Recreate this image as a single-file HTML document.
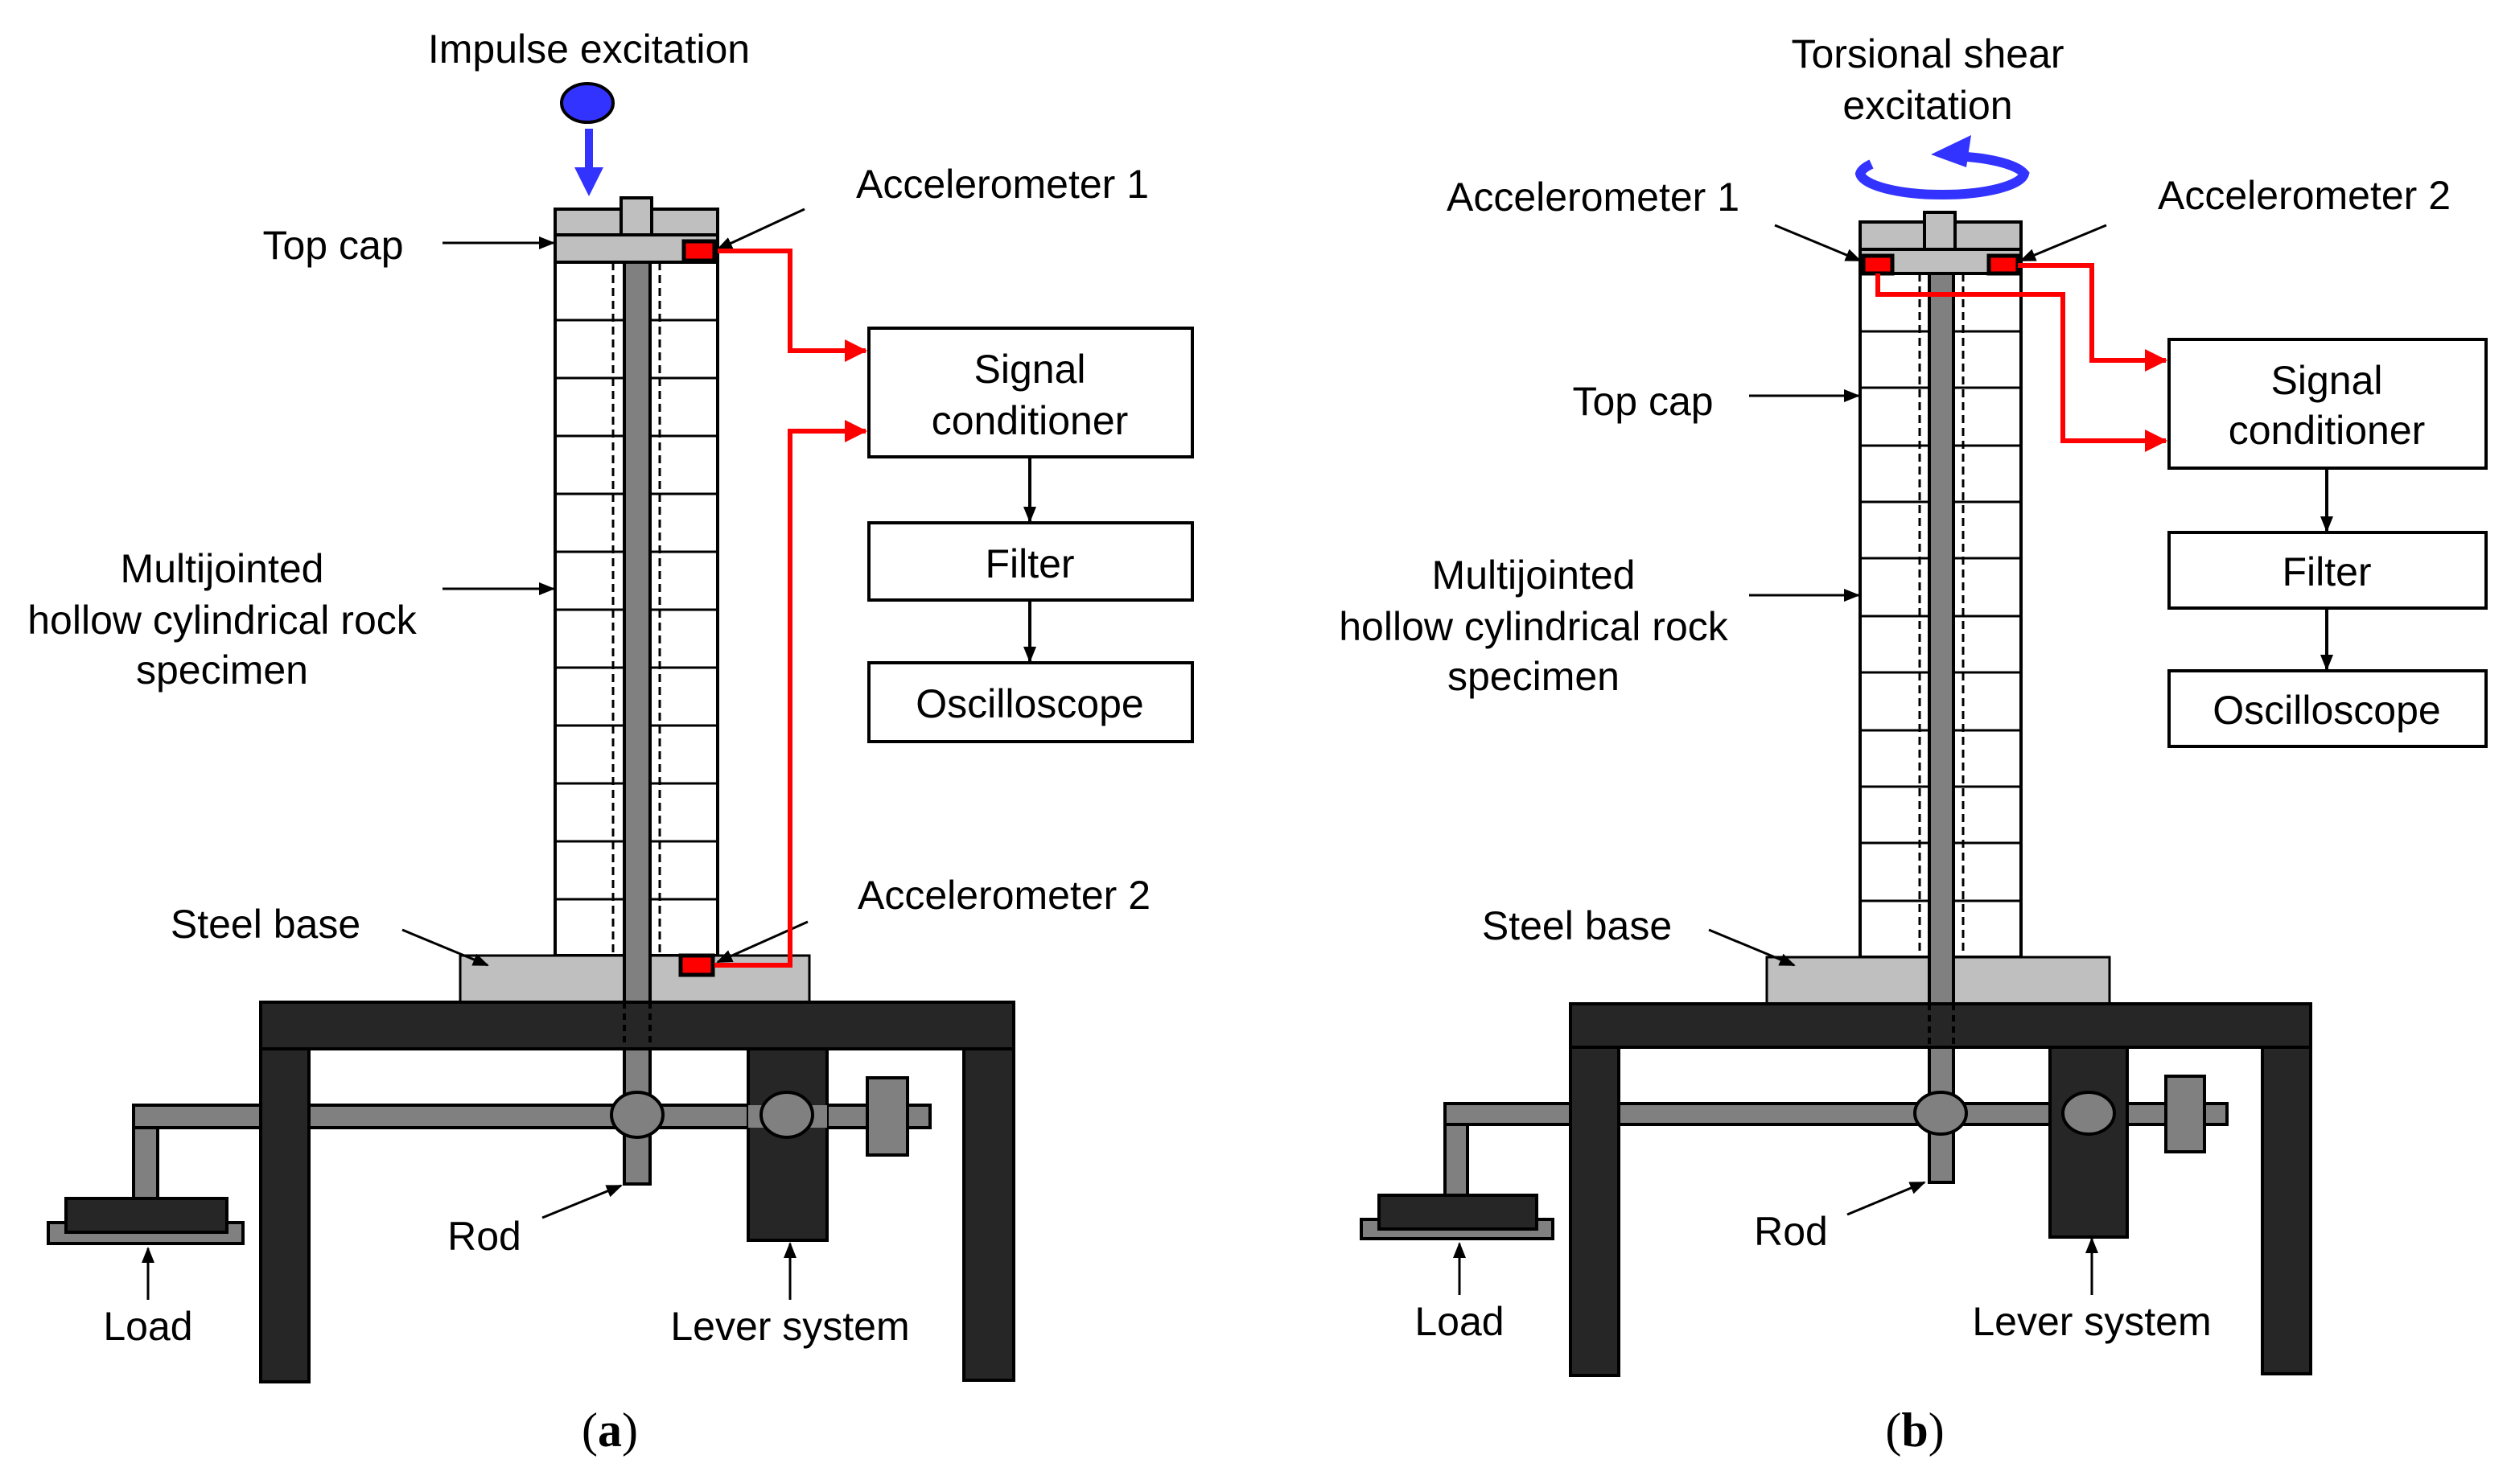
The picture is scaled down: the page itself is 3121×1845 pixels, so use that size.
<!DOCTYPE html>
<html><head><meta charset="utf-8"><style>html,body{margin:0;padding:0;background:#fff}svg{display:block}text{font-family:"Liberation Sans",sans-serif;font-size:25px;fill:#000}</style></head>
<body>
<svg width="3121" height="1845" viewBox="0 0 1560.5 922.5" xmlns="http://www.w3.org/2000/svg">
<defs>
<marker id="ab" markerWidth="10" markerHeight="8" refX="9" refY="4" orient="auto" markerUnits="userSpaceOnUse"><path d="M0,0 L10,4 L0,8Z" fill="#000"/></marker>
<marker id="ar" markerWidth="14" markerHeight="14" refX="13" refY="7" orient="auto" markerUnits="userSpaceOnUse"><path d="M0,0 L14,7 L0,14Z" fill="#f00"/></marker>
</defs>
<g stroke="#000" stroke-width="2">
<!-- PANEL A -->
<rect x="345" y="163" width="101" height="431" fill="#fff"/>
<g stroke-width="1.5">
<line x1="345" y1="199" x2="446" y2="199"/><line x1="345" y1="235" x2="446" y2="235"/><line x1="345" y1="271" x2="446" y2="271"/><line x1="345" y1="307" x2="446" y2="307"/><line x1="345" y1="343" x2="446" y2="343"/><line x1="345" y1="379" x2="446" y2="379"/><line x1="345" y1="415" x2="446" y2="415"/><line x1="345" y1="451" x2="446" y2="451"/><line x1="345" y1="487" x2="446" y2="487"/><line x1="345" y1="523" x2="446" y2="523"/><line x1="345" y1="559" x2="446" y2="559"/>
<line x1="381" y1="163" x2="381" y2="594" stroke-dasharray="5,3"/><line x1="410" y1="163" x2="410" y2="594" stroke-dasharray="5,3"/>
</g>
<rect x="286" y="594" width="217" height="29" fill="#bfbfbf" stroke-width="1.5"/>
<rect x="388" y="163" width="16" height="573" fill="#808080"/>
<rect x="162" y="623" width="468" height="29" fill="#262626"/>
<line x1="388" y1="623" x2="388" y2="652" stroke="#000" stroke-dasharray="4,3"/><line x1="404" y1="623" x2="404" y2="652" stroke-dasharray="4,3"/>
<rect x="388" y="652" width="16" height="84" fill="#808080"/>
<rect x="162" y="652" width="30" height="207" fill="#262626"/>
<rect x="599" y="652" width="31" height="206" fill="#262626"/>
<rect x="83" y="687" width="79" height="14" fill="#808080"/>
<rect x="192" y="687" width="386" height="14" fill="#808080"/>
<rect x="83" y="701" width="15" height="45" fill="#808080"/>
<rect x="30" y="760" width="121" height="13" fill="#808080"/>
<rect x="41" y="745" width="100" height="21" fill="#262626"/>
<rect x="465" y="652" width="49" height="119" fill="#262626"/>
<rect x="465" y="687" width="49" height="14" fill="#808080" stroke="none"/>
<rect x="539" y="670" width="25" height="48" fill="#808080"/>
<ellipse cx="396" cy="693" rx="16" ry="14" fill="#808080"/>
<ellipse cx="489" cy="693" rx="16" ry="14" fill="#808080"/>
<rect x="345" y="130" width="101" height="16" fill="#bfbfbf"/>
<rect x="386" y="123" width="19" height="23" fill="#bfbfbf"/>
<rect x="345" y="146" width="101" height="17" fill="#bfbfbf"/>
<rect x="425" y="150" width="19" height="12" fill="#f00" stroke-width="2.5"/>
<rect x="423" y="594" width="20" height="12" fill="#f00" stroke-width="2.5"/>
<rect x="540" y="204" width="201" height="80" fill="#fff"/>
<rect x="540" y="325" width="201" height="48" fill="#fff"/>
<rect x="540" y="412" width="201" height="49" fill="#fff"/>
<line x1="640" y1="284" x2="640" y2="324" marker-end="url(#ab)" stroke-width="2"/>
<line x1="640" y1="373" x2="640" y2="411" marker-end="url(#ab)"/>
<g stroke-width="1.5">
<line x1="275" y1="151" x2="344" y2="151" marker-end="url(#ab)"/>
<line x1="500" y1="130" x2="446" y2="155" marker-end="url(#ab)"/>
<line x1="275" y1="366" x2="344" y2="366" marker-end="url(#ab)"/>
<line x1="250" y1="578" x2="303" y2="600" marker-end="url(#ab)"/>
<line x1="502" y1="573" x2="446" y2="598" marker-end="url(#ab)"/>
<line x1="337" y1="757" x2="386" y2="737" marker-end="url(#ab)"/>
<line x1="92" y1="808" x2="92" y2="776" marker-end="url(#ab)"/>
<line x1="491" y1="808" x2="491" y2="773" marker-end="url(#ab)"/>
</g>
</g>
<g fill="none" stroke="#f00" stroke-width="3">
<polyline points="446,156 491,156 491,218 538,218" marker-end="url(#ar)"/>
<polyline points="444,600 491,600 491,268 538,268" marker-end="url(#ar)"/>
</g>
<ellipse cx="365" cy="64" rx="16" ry="12" fill="#33f" stroke="#000" stroke-width="2"/>
<line x1="366" y1="80" x2="366" y2="108" stroke="#33f" stroke-width="5"/>
<path d="M357,104 L375,104 L366,122Z" fill="#33f"/>

<!-- PANEL B -->
<g stroke="#000" stroke-width="2">
<rect x="1156" y="170" width="100" height="425" fill="#fff"/>
<g stroke-width="1.5">
<line x1="1156" y1="206" x2="1256" y2="206"/><line x1="1156" y1="241" x2="1256" y2="241"/><line x1="1156" y1="277" x2="1256" y2="277"/><line x1="1156" y1="312" x2="1256" y2="312"/><line x1="1156" y1="347" x2="1256" y2="347"/><line x1="1156" y1="383" x2="1256" y2="383"/><line x1="1156" y1="418" x2="1256" y2="418"/><line x1="1156" y1="454" x2="1256" y2="454"/><line x1="1156" y1="489" x2="1256" y2="489"/><line x1="1156" y1="524" x2="1256" y2="524"/><line x1="1156" y1="560" x2="1256" y2="560"/>
<line x1="1193" y1="170" x2="1193" y2="595" stroke-dasharray="5,3"/><line x1="1220" y1="170" x2="1220" y2="595" stroke-dasharray="5,3"/>
</g>
<rect x="1098" y="595" width="213" height="29" fill="#bfbfbf" stroke-width="1.5"/>
<rect x="1199" y="170" width="15" height="565" fill="#808080"/>
<rect x="976" y="624" width="460" height="27" fill="#262626"/>
<line x1="1199" y1="624" x2="1199" y2="651" stroke-dasharray="4,3"/><line x1="1214" y1="624" x2="1214" y2="651" stroke-dasharray="4,3"/>
<rect x="1199" y="651" width="15" height="84" fill="#808080"/>
<rect x="976" y="651" width="30" height="204" fill="#262626"/>
<rect x="1406" y="651" width="30" height="203" fill="#262626"/>
<rect x="898" y="686" width="78" height="13" fill="#808080"/>
<rect x="1006" y="686" width="378" height="13" fill="#808080"/>
<rect x="898" y="699" width="14" height="45" fill="#808080"/>
<rect x="846" y="758" width="119" height="12" fill="#808080"/>
<rect x="857" y="743" width="98" height="21" fill="#262626"/>
<rect x="1274" y="651" width="48" height="118" fill="#262626"/>
<rect x="1346" y="669" width="24" height="47" fill="#808080"/>
<ellipse cx="1206" cy="692" rx="16" ry="13" fill="#808080"/>
<ellipse cx="1298" cy="692" rx="16" ry="13" fill="#808080"/>
<rect x="1156" y="138" width="100" height="17" fill="#bfbfbf"/>
<rect x="1196" y="132" width="19" height="23" fill="#bfbfbf"/>
<rect x="1156" y="155" width="100" height="15" fill="#bfbfbf"/>
<rect x="1158" y="159" width="18" height="11" fill="#f00" stroke-width="2.5"/>
<rect x="1236" y="159" width="18" height="11" fill="#f00" stroke-width="2.5"/>
<rect x="1348" y="211" width="197" height="80" fill="#fff"/>
<rect x="1348" y="331" width="197" height="47" fill="#fff"/>
<rect x="1348" y="417" width="197" height="47" fill="#fff"/>
<line x1="1446" y1="291" x2="1446" y2="330" marker-end="url(#ab)"/>
<line x1="1446" y1="378" x2="1446" y2="416" marker-end="url(#ab)"/>
<g stroke-width="1.5">
<line x1="1103" y1="140" x2="1156" y2="162" marker-end="url(#ab)"/>
<line x1="1309" y1="140" x2="1256" y2="162" marker-end="url(#ab)"/>
<line x1="1087" y1="246" x2="1155" y2="246" marker-end="url(#ab)"/>
<line x1="1087" y1="370" x2="1155" y2="370" marker-end="url(#ab)"/>
<line x1="1062" y1="578" x2="1115" y2="600" marker-end="url(#ab)"/>
<line x1="1148" y1="755" x2="1196" y2="735" marker-end="url(#ab)"/>
<line x1="907" y1="805" x2="907" y2="773" marker-end="url(#ab)"/>
<line x1="1300" y1="805" x2="1300" y2="770" marker-end="url(#ab)"/>
</g>
</g>
<g fill="none" stroke="#f00" stroke-width="3">
<polyline points="1254,165 1300,165 1300,224 1346,224" marker-end="url(#ar)"/>
<polyline points="1167,170 1167,183 1282,183 1282,274 1346,274" marker-end="url(#ar)"/>
</g>
<path d="M1212,97 A51,14 0 0 1 1258,108 A51,14 0 0 1 1207,121 A51,14 0 0 1 1156,108 A51,14 0 0 1 1163,102" fill="none" stroke="#33f" stroke-width="6"/>
<path d="M1200,96 L1225,84 L1222,104Z" fill="#33f"/>

<!-- TEXT -->
<text x="366" y="39" text-anchor="middle">Impulse excitation</text>
<text x="623" y="123" text-anchor="middle">Accelerometer 1</text>
<text x="207" y="161" text-anchor="middle">Top cap</text>
<text x="640" y="238" text-anchor="middle">Signal</text>
<text x="640" y="270" text-anchor="middle">conditioner</text>
<text x="640" y="359" text-anchor="middle">Filter</text>
<text x="640" y="446" text-anchor="middle">Oscilloscope</text>
<text x="138" y="362" text-anchor="middle">Multijointed</text>
<text x="138" y="394" text-anchor="middle">hollow cylindrical rock</text>
<text x="138" y="425" text-anchor="middle">specimen</text>
<text x="624" y="565" text-anchor="middle">Accelerometer 2</text>
<text x="165" y="583" text-anchor="middle">Steel base</text>
<text x="301" y="777" text-anchor="middle">Rod</text>
<text x="92" y="833" text-anchor="middle">Load</text>
<text x="491" y="833" text-anchor="middle">Lever system</text>
<text x="379" y="899" text-anchor="middle" style="font-family:'Liberation Serif',serif;font-size:30px">(<tspan font-weight="bold">a</tspan>)</text>

<text x="1198" y="42" text-anchor="middle">Torsional shear</text>
<text x="1198" y="74" text-anchor="middle">excitation</text>
<text x="990" y="131" text-anchor="middle">Accelerometer 1</text>
<text x="1432" y="130" text-anchor="middle">Accelerometer 2</text>
<text x="1021" y="258" text-anchor="middle">Top cap</text>
<text x="1446" y="245" text-anchor="middle">Signal</text>
<text x="1446" y="276" text-anchor="middle">conditioner</text>
<text x="1446" y="364" text-anchor="middle">Filter</text>
<text x="1446" y="450" text-anchor="middle">Oscilloscope</text>
<text x="953" y="366" text-anchor="middle">Multijointed</text>
<text x="953" y="398" text-anchor="middle">hollow cylindrical rock</text>
<text x="953" y="429" text-anchor="middle">specimen</text>
<text x="980" y="584" text-anchor="middle">Steel base</text>
<text x="1113" y="774" text-anchor="middle">Rod</text>
<text x="907" y="830" text-anchor="middle">Load</text>
<text x="1300" y="830" text-anchor="middle">Lever system</text>
<text x="1190" y="899" text-anchor="middle" style="font-family:'Liberation Serif',serif;font-size:30px">(<tspan font-weight="bold">b</tspan>)</text>
</svg>
</body></html>
